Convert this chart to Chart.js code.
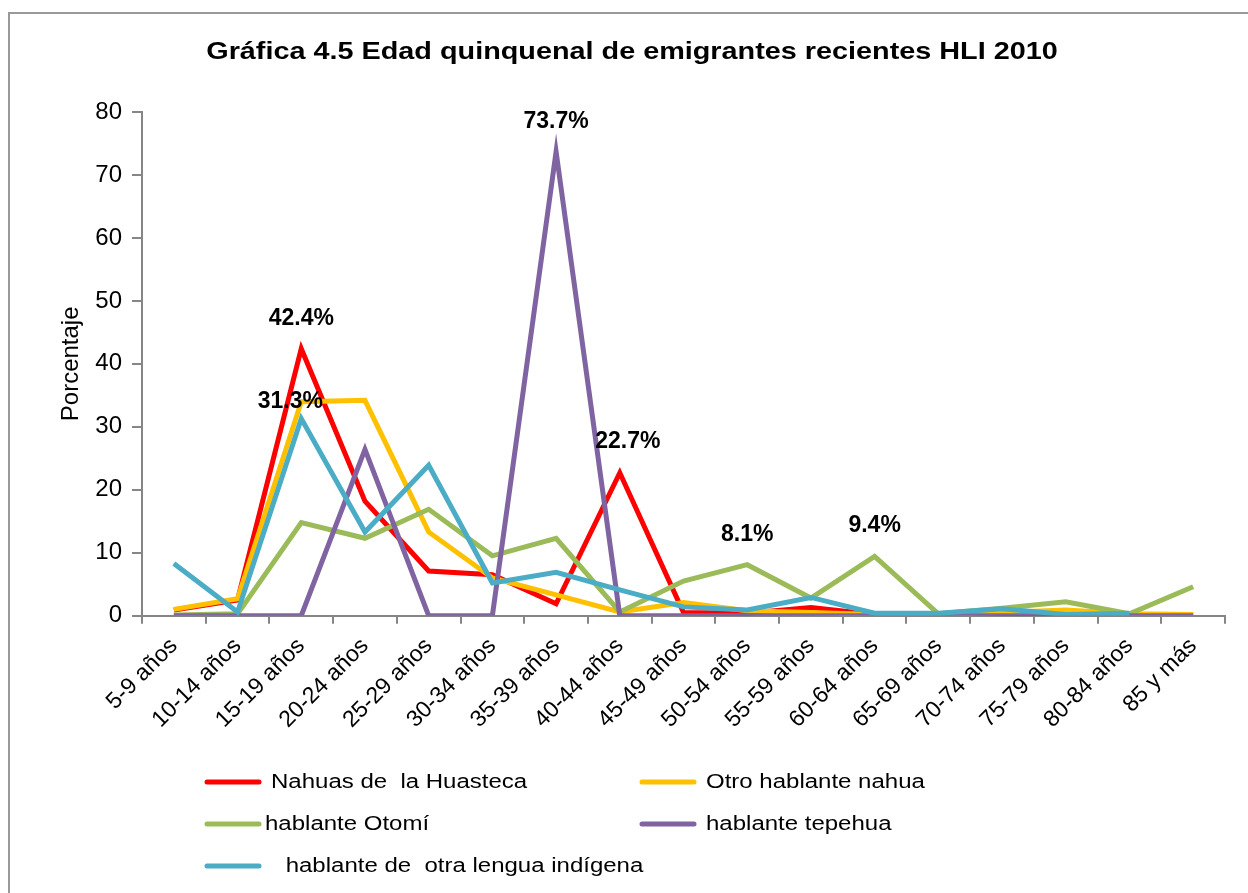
<!DOCTYPE html>
<html>
<head>
<meta charset="utf-8">
<script src="https://cdn.jsdelivr.net/npm/chart.js@4.4.0/dist/chart.umd.min.js"></script>
<style>
  html, body { margin: 0; padding: 0; background: #fff; }
  #wrap { width: 1248px; height: 893px; }
</style>
</head>
<body>
<div id="wrap"><canvas id="grafica"></canvas></div>
<script>
// Grupos quinquenales de edad
const edades = ['5-9 años', '10-14 años', '15-19 años', '20-24 años', '25-29 años', '30-34 años',
    '35-39 años', '40-44 años', '45-49 años', '50-54 años', '55-59 años', '60-64 años',
    '65-69 años', '70-74 años', '75-79 años', '80-84 años', '85 y más'];

// Porcentajes por grupo
const nahuasHuasteca = [0.9, 2.5, 42.4, 18.2, 7.1, 6.5, 1.9, 22.7, 0.5, 0.4, 1.3, 0.2, 0.2, 0.3, 0.2, 0.1, 0.1];
const otroNahua = [1.0, 2.7, 34.0, 34.2, 13.3, 6.0, 3.3, 0.6, 2.1, 0.8, 0.5, 0.2, 0.2, 0.5, 0.9, 0.3, 0.2];
const otomi = [0.1, 0.3, 14.8, 12.3, 16.9, 9.5, 12.3, 0.6, 5.5, 8.1, 2.8, 9.4, 0.3, 1.2, 2.2, 0.3, 4.6];
const tepehua = [0, 0, 0, 26.4, 0, 0, 73.7, 0, 0, 0, 0, 0, 0, 0, 0, 0, 0];
const otraLengua = [8.3, 0.6, 31.3, 13.3, 23.9, 5.2, 6.9, 4.1, 1.4, 0.9, 2.9, 0.4, 0.4, 1.1, 0.2, 0.4, null];

const series = ['Nahuas de  la Huasteca', 'Otro hablante nahua', 'hablante Otomí',
    'hablante tepehua', ' hablante de  otra lengua indígena'];

const yTicks = [0, 10, 20, 30, 40, 50, 60, 70, 80];

// etiquetas de valor: serie, índice
const etiquetas = [[0, 2], [4, 2], [3, 6], [0, 7], [2, 9], [2, 11]];

const colores = ['#FF0000', '#FFC000', '#9BBB59', '#8064A2', '#4BACC6'];
const gris = '#868686';

const datos = [nahuasHuasteca, otroNahua, otomi, tepehua, otraLengua];

// texto ensanchado horizontalmente, como en la imagen original
function textoAncho(c, txt, x, y, k) {
    c.save();
    c.translate(x, y);
    c.scale(k, 1);
    c.fillText(txt, 0, 0);
    c.restore();
}

// Título, marco, etiquetas y leyenda dibujados a mano
const extras = {
    id: 'extras',
    beforeDraw(chart) {
        const c = chart.ctx;
        c.save();
        c.fillStyle = '#fff';
        c.fillRect(0, 0, chart.width, chart.height);
        c.strokeStyle = '#999';
        c.lineWidth = 2;
        c.strokeRect(9, 13, 1260, 900);
        c.restore();
    },
    afterDraw(chart) {
        const c = chart.ctx;
        c.save();
        // título
        c.fillStyle = '#000';
        c.font = 'bold 24px "Liberation Sans", Arial, sans-serif';
        c.textAlign = 'center';
        c.textBaseline = 'alphabetic';
        textoAncho(c, 'Gráfica 4.5 Edad quinquenal de emigrantes recientes HLI 2010', 632, 59, 1.2);

        // etiquetas de datos
        c.font = 'bold 23px "Liberation Sans", Arial, sans-serif';
        c.textBaseline = 'middle';
        const desplaz = [[0, -30], [-11, -17], [0, -30], [8, -31], [0, -30], [0, -31]];
        etiquetas.forEach(([d, i], k) => {
            const p = chart.getDatasetMeta(d).data[i];
            c.fillText(datos[d][i].toFixed(1) + '%', p.x + desplaz[k][0], p.y + desplaz[k][1]);
        });

        // leyenda
        const pos = [[205, 782, 271], [640, 782, 706], [205, 824, 265], [640, 824, 706], [205, 866, 279]];
        c.font = '20px "Liberation Sans", Arial, sans-serif';
        c.textAlign = 'left';
        chart.data.datasets.forEach((ds, k) => {
            const [x, y, tx] = pos[k];
            c.strokeStyle = ds.borderColor;
            c.lineWidth = 5;
            c.lineCap = 'round';
            c.beginPath();
            c.moveTo(x + 2, y);
            c.lineTo(x + 54, y);
            c.stroke();
            c.fillStyle = '#000';
            textoAncho(c, ds.label, tx, y, 1.2);
        });
        c.restore();
    }
};

new Chart(document.getElementById('grafica'), {
    type: 'line',
    data: {
        labels: edades,
        datasets: datos.map((d, k) => ({
            label: series[k],
            data: d,
            borderColor: colores[k],
            backgroundColor: colores[k],
            borderWidth: 5,
            pointRadius: 0,
            tension: 0,
            order: 5 - k
        }))
    },
    options: {
        responsive: true,
        maintainAspectRatio: false,
        animation: false,
        layout: { padding: { left: 10, right: 23, top: 112, bottom: 147 } },
        plugins: { legend: { display: false }, tooltip: { enabled: false } },
        scales: {
            x: {
                offset: true,
                grid: { offset: true, drawOnChartArea: false, drawTicks: true, tickLength: 8, color: gris, lineWidth: 2 },
                border: { color: gris, width: 2 },
                ticks: { color: '#000', font: { family: '"Liberation Sans", Arial', size: 23 }, minRotation: 45, maxRotation: 45, autoSkip: false, padding: 9 },
                afterFit(s) { s.height = 893 - 147 - 615.7; }
            },
            y: {
                min: 0,
                max: 80,
                afterBuildTicks(s) { s.ticks = yTicks.map(v => ({ value: v })); },
                grid: { drawOnChartArea: false, drawTicks: true, tickLength: 10, color: gris, lineWidth: 2 },
                border: { color: gris, width: 2 },
                ticks: { color: '#000', font: { family: '"Liberation Sans", Arial', size: 24 }, padding: 10 },
                title: { display: true, text: 'Porcentaje', color: '#000', font: { family: '"Liberation Sans", Arial', size: 24 }, padding: { top: 47, bottom: 0 } },
                afterFit(s) { s.width = 132; }
            }
        }
    },
    plugins: [extras]
});
</script>
</body>
</html>
